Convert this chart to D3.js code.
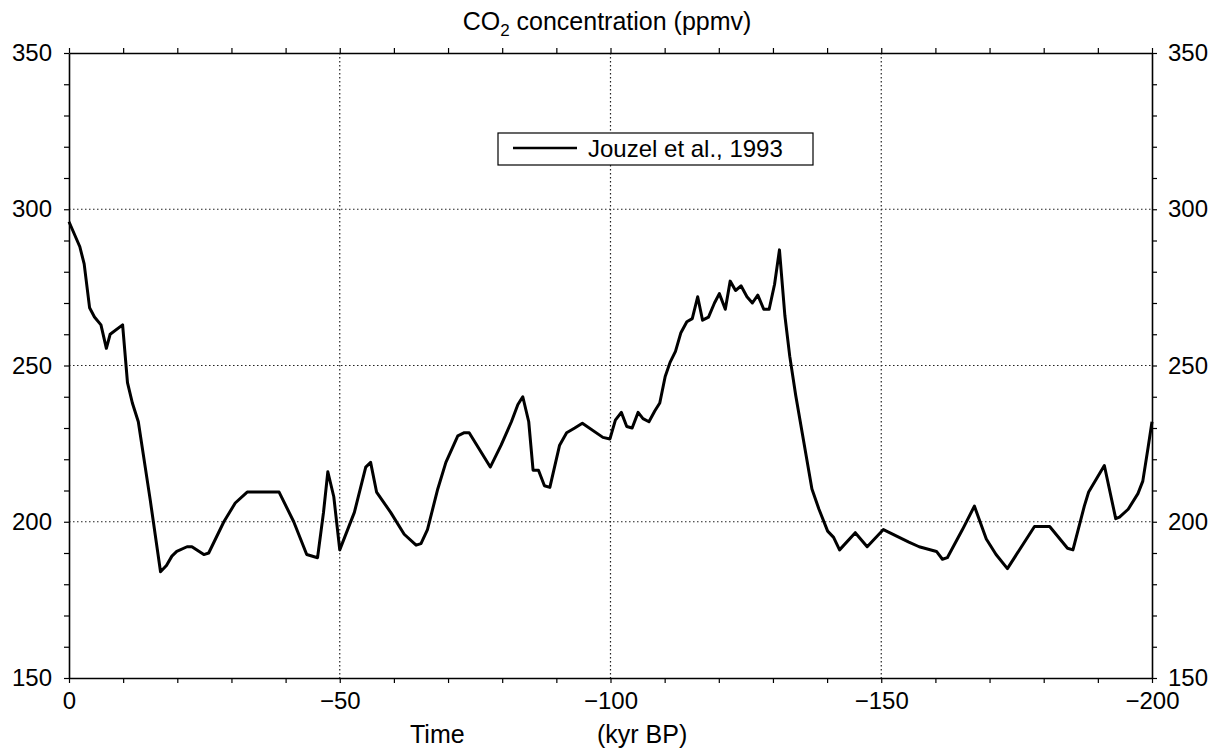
<!DOCTYPE html>
<html>
<head>
<meta charset="utf-8">
<script src="https://cdn.jsdelivr.net/npm/d3@7"></script>
<style>
  body { margin: 0; background: #fff; }
  text { font-family: "Liberation Sans", Arial, Helvetica, sans-serif; fill: #000; }
</style>
</head>
<body>
<div id="chart"></div>
<script>
// time in kyr BP (negative = before present), CO2 in ppmv
const time = [
  0, -2.0, -2.8, -3.8, -4.7, -5.9, -6.9, -7.6, -9.9, -10.8, -11.7, -12.8, -15.0, -16.9,
  -18.0, -19.0, -19.9, -21.8, -22.7, -24.9, -25.8, -28.6, -30.7, -32.9, -38.8, -41.5,
  -43.9, -45.9, -47.0, -47.8, -48.9, -50.0, -52.7, -54.8, -55.7, -56.8, -59.4, -61.9,
  -64.1, -65.0, -66.2, -68.1, -69.6, -71.8, -73.0, -73.9, -77.8, -79.8, -81.7, -82.9,
  -83.8, -84.9, -85.7, -86.7, -87.8, -88.8, -90.6, -91.9, -93.4, -94.8, -98.6, -99.9,
  -100.9, -102.0, -103.0, -104.0, -105.1, -106.0, -107.1, -108.2, -109.1, -110.1, -111.0,
  -112.0, -113.0, -114.1, -115.1, -116.1, -117.0, -118.1, -119.2, -120.1, -121.2, -122.1,
  -123.1, -124.1, -125.2, -126.2, -127.2, -128.3, -129.3, -130.3, -131.2, -132.2, -133.1,
  -134.2, -135.4, -137.2, -138.5, -140.1, -141.2, -142.3, -145.2, -147.4, -150.4, -155.1,
  -157.0, -160.2, -161.3, -162.2, -165.0, -167.2, -169.4, -171.2, -173.3, -178.3, -181.1,
  -184.4, -185.4, -187.5, -188.3, -191.2, -193.3, -194.0, -195.6, -197.4, -198.3, -199.3, -200.0
];
const co2 = [
  296, 288, 282.5, 268.5, 265.5, 263, 255.5, 260, 263, 244.5, 238, 232, 207, 184,
  186, 189, 190.5, 192, 192, 189.5, 190, 200, 206, 209.5, 209.5, 200,
  189.5, 188.5, 203, 216, 208, 191, 203, 217.5, 219, 209.5, 203, 196,
  192.5, 193, 197.5, 210.5, 219, 227.5, 228.5, 228.5, 217.5, 224.5, 232, 237.5,
  240, 232, 216.5, 216.5, 211.5, 211, 224.5, 228.5, 230, 231.5, 227, 226.5,
  232.5, 235, 230.5, 230, 235, 233, 232, 235.5, 238, 246.5, 251,
  254.5, 260.5, 264, 265, 272, 264.5, 265.5, 270, 273, 268, 277,
  274, 275.5, 272, 270, 272.5, 268, 268, 276, 287, 266, 253,
  240.5, 228.5, 210.5, 204, 197, 195, 191, 196.5, 192, 197.5, 193.5,
  192, 190.5, 188, 188.5, 197.5, 205, 194.5, 189.5, 185, 198.5, 198.5,
  191.5, 191, 205, 209.5, 218, 201, 201.5, 204, 209, 213, 224, 232
];
const xTicks = d3.range(0, -201, -10);
const yTicks = d3.range(150, 351, 10);
const legendLabel = "Jouzel et al., 1993";

const width = 1213, height = 748;
const margin = { left: 69, right: 61, top: 53, bottom: 70 };
const innerW = width - margin.left - margin.right;
const innerH = height - margin.top - margin.bottom;

const svg = d3.select("#chart").append("svg")
  .attr("width", width)
  .attr("height", height);

const g = svg.append("g")
  .attr("transform", `translate(${margin.left},${margin.top})`);

const x = d3.scaleLinear().domain([0, -200]).range([0, innerW]);
const y = d3.scaleLinear().domain([150, 350]).range([innerH, 0]);

// dotted grid at the labelled ticks
const grid = g.append("g")
  .attr("stroke", "#222")
  .attr("stroke-width", 1.2)
  .attr("stroke-dasharray", "1.5,2.5");
grid.selectAll(".gx")
  .data([-50, -100, -150])
  .join("line")
  .attr("x1", d => x(d)).attr("x2", d => x(d))
  .attr("y1", 0).attr("y2", innerH);
grid.selectAll(".gy")
  .data([200, 250, 300])
  .join("line")
  .attr("y1", d => y(d)).attr("y2", d => y(d))
  .attr("x1", 0).attr("x2", innerW);

const xLabel = d => (d % 50 === 0 ? d3.format("d")(d) : "");
const yLabel = d => (d % 50 === 0 ? d : "");

const styleAxis = (sel) => {
  sel.select(".domain").attr("stroke", "#000").attr("stroke-width", 1.6);
  sel.selectAll(".tick line").attr("stroke", "#000").attr("stroke-width", 1.2);
  sel.selectAll(".tick text").attr("font-size", 24).attr("fill", "#000");
  sel.attr("font-family", null);
};

g.append("g")
  .attr("transform", `translate(0,${innerH})`)
  .call(d3.axisBottom(x).tickValues(xTicks).tickFormat(xLabel).tickSize(5).tickSizeOuter(0).tickPadding(9))
  .call(styleAxis);
g.append("g")
  .call(d3.axisTop(x).tickValues(xTicks).tickFormat("").tickSize(5).tickSizeOuter(0))
  .call(styleAxis);
g.append("g")
  .call(d3.axisLeft(y).tickValues(yTicks).tickFormat(yLabel).tickSize(5).tickSizeOuter(0).tickPadding(12))
  .call(styleAxis);
g.append("g")
  .attr("transform", `translate(${innerW},0)`)
  .call(d3.axisRight(y).tickValues(yTicks).tickFormat(yLabel).tickSize(5).tickSizeOuter(0).tickPadding(11))
  .call(styleAxis);

// CO2 curve
const series = time.map((t, i) => ({ t, v: co2[i] }));
g.append("path")
  .datum(series)
  .attr("fill", "none")
  .attr("stroke", "#000")
  .attr("stroke-width", 3)
  .attr("stroke-linejoin", "round")
  .attr("d", d3.line().x(d => x(d.t)).y(d => y(d.v)));

// legend
const legend = svg.append("g").attr("transform", "translate(498,133)");
legend.append("rect")
  .attr("width", 315).attr("height", 32)
  .attr("fill", "#fff").attr("stroke", "#000").attr("stroke-width", 1.2);
legend.append("line")
  .attr("x1", 15).attr("x2", 79).attr("y1", 15).attr("y2", 15)
  .attr("stroke", "#000").attr("stroke-width", 2.6);
legend.append("text")
  .attr("x", 90).attr("y", 24)
  .attr("font-size", 24)
  .text(legendLabel);

// titles
const title = svg.append("text")
  .attr("x", 607).attr("y", 30)
  .attr("text-anchor", "middle")
  .attr("font-size", 25);
title.append("tspan").text("CO");
title.append("tspan").attr("font-size", 17).attr("dy", 6).text("2");
title.append("tspan").attr("dy", -6).text(" concentration (ppmv)");

svg.append("text").attr("x", 410).attr("y", 743).attr("font-size", 25).text("Time");
svg.append("text").attr("x", 597).attr("y", 743).attr("font-size", 25).text("(kyr BP)");
</script>
</body>
</html>
